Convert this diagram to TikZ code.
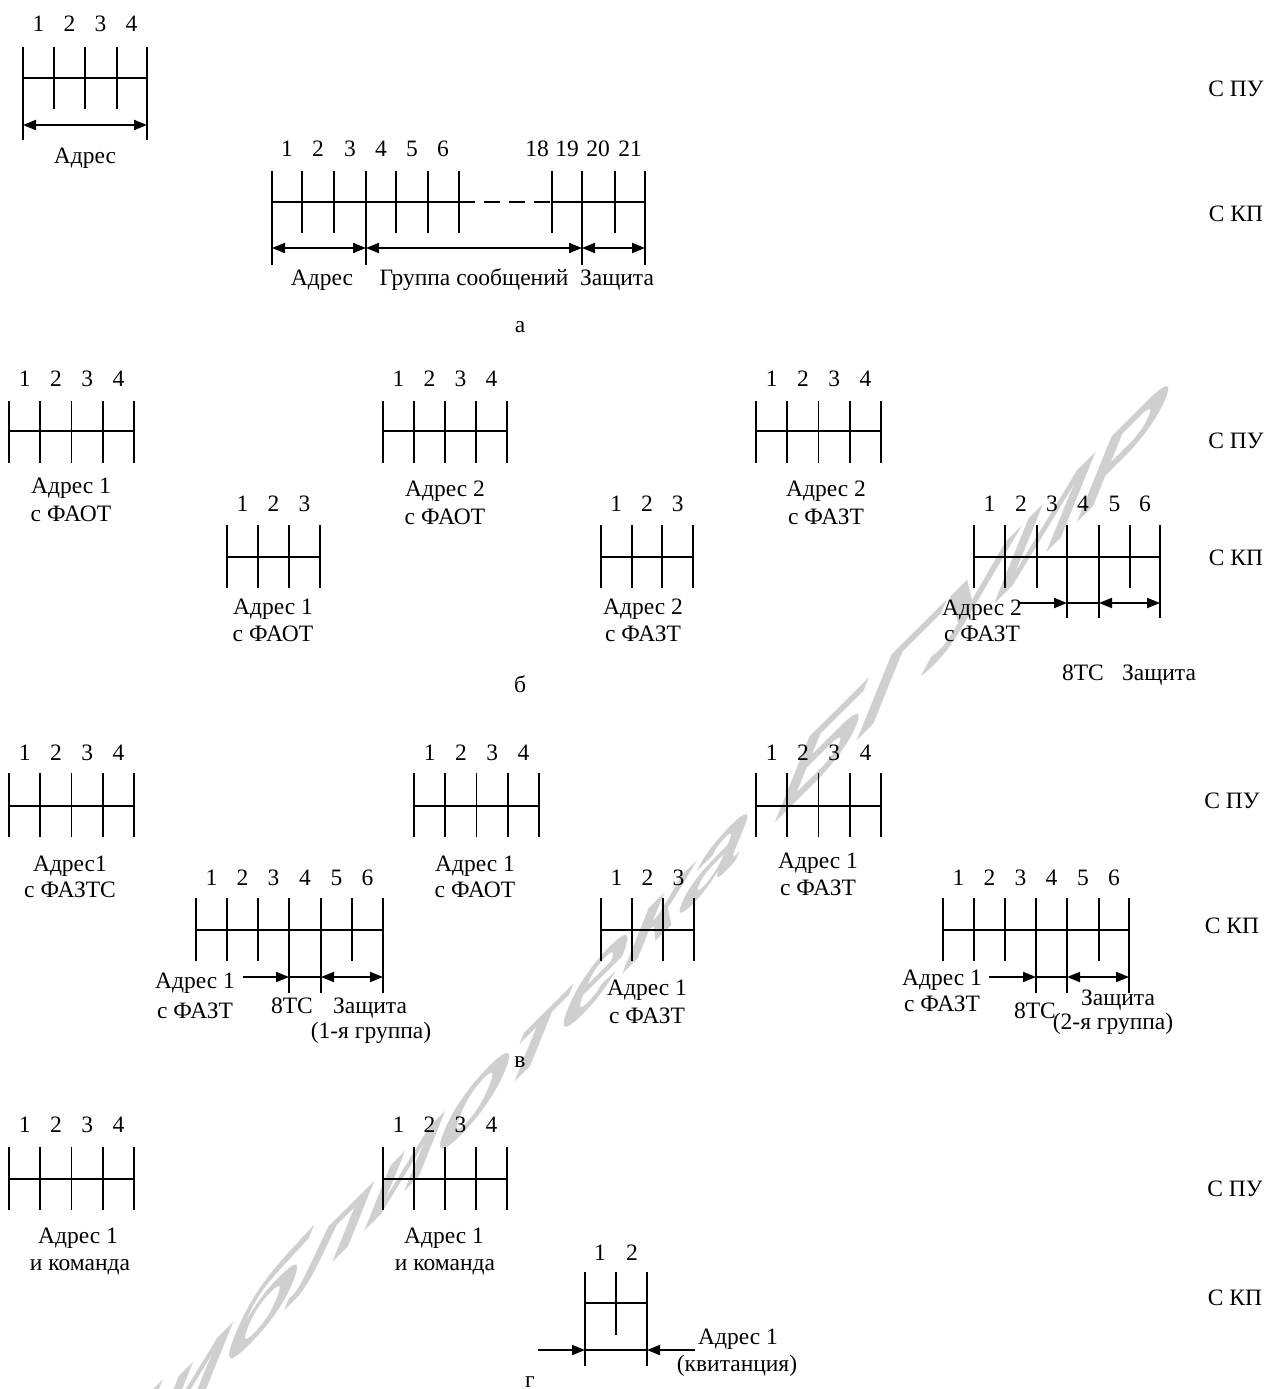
\documentclass[tikz,border=0pt]{standalone}
\usepackage{fontspec}
\setmainfont{Liberation Serif}
\newfontfamily\wmfont{Liberation Sans}
\usetikzlibrary{arrows.meta}
\newcommand\frameblk[6]{%
  \foreach \i in {0,...,#3}{\draw (#1+\i*#2,#4) -- (#1+\i*#2,#6);}
  \draw (#1,#5) -- (#1+#3*#2,#5);}
\newcommand\cellnums[5]{%
  \foreach \i in {1,...,#3}{\node[txt] (#5-\i) at (#1+\i*#2-0.5*#2,#4) {\i};}}
\begin{document}
\begin{tikzpicture}[x=1pt,y=-1pt,line width=1.9pt,
  txt/.style={inner sep=0pt,anchor=base,font=\fontsize{23.5}{28}\selectfont},
  dim/.style={{Triangle[length=13pt,width=10pt]}-{Triangle[length=13pt,width=10pt]}},
  tor/.style={-{Triangle[length=13pt,width=10pt]}},
  wm/.style={inner sep=0pt,text=black!19,font=\wmfont\bfseries\fontsize{135}{140}\selectfont,
    cm={0.851,0.846,0.375,0.927,(0,0)}}]
\useasboundingbox (0,0) rectangle (1267,1389);
% watermark
\begin{scope}
\clip (0,0) rectangle (1267,1389);
\node[wm] (watermark) at (622,948) {Библиотека БГУИР};
\end{scope}

% ================= a =================
\draw (23,47) -- (23,140);
\draw (147,47) -- (147,140);
\foreach \x in {54,85,117}{\draw (\x,47) -- (\x,109);}
\draw (23,78) -- (147,78);
\draw[dim] (23,125) -- (147,125);
\cellnums{23}{31}{4}{32}{aa}
\node[txt] (aaadr) at (85,163) {Адрес};

\foreach \x in {272,366,582,645}{\draw (\x,171) -- (\x,265);}
\foreach \x in {302,334,396,428,459,552,615}{\draw (\x,171) -- (\x,233);}
\draw (272,202) -- (459,202);
\draw[dash pattern=on 16pt off 9pt] (459,202) -- (552,202);
\draw (552,202) -- (645,202);
\draw[dim] (272,248) -- (366,248);
\draw[dim] (366,248) -- (582,248);
\draw[dim] (582,248) -- (645,248);
\foreach \n/\x in {1/287,2/318,3/350,4/381,5/412,6/443,18/537,19/567,20/598,21/630}
  {\node[txt] (ab-\n) at (\x,156) {\n};}
\node[txt] (abadr) at (322,285) {Адрес};
\node[txt] (abgrp) at (474,285) {Группа сообщений};
\node[txt] (abzas) at (617,285) {Защита};
\node[txt] (alab) at (520,332) {а};
\node[txt] (apu) at (1236,96) {С ПУ};
\node[txt] (akp) at (1236,221) {С КП};

% ================= b =================
\frameblk{9}{31.25}{4}{401}{431}{463}
\cellnums{9}{31.25}{4}{386}{ba}
\node[txt] (bal1) at (71,493) {Адрес 1};
\node[txt] (bal2) at (71,521) {с ФАОТ};

\frameblk{227}{31}{3}{525}{557}{588}
\cellnums{227}{31}{3}{511}{bb}
\node[txt] (bbl1) at (273,614) {Адрес 1};
\node[txt] (bbl2) at (273,641) {с ФАОТ};

\frameblk{383}{31}{4}{401}{431}{463}
\cellnums{383}{31}{4}{386}{bc}
\node[txt] (bcl1) at (445,496) {Адрес 2};
\node[txt] (bcl2) at (445,524) {с ФАОТ};

\frameblk{601}{30.67}{3}{525}{557}{588}
\cellnums{601}{30.67}{3}{511}{bd}
\node[txt] (bdl1) at (643,614) {Адрес 2};
\node[txt] (bdl2) at (643,641) {с ФАЗТ};

\frameblk{756}{31.25}{4}{401}{431}{463}
\cellnums{756}{31.25}{4}{386}{be}
\node[txt] (bel1) at (826,496) {Адрес 2};
\node[txt] (bel2) at (826,524) {с ФАЗТ};

\foreach \x in {974,1005,1037,1130}{\draw (\x,525) -- (\x,588);}
\foreach \x in {1067,1099,1160}{\draw (\x,525) -- (\x,618);}
\draw (974,557) -- (1160,557);
\draw[tor] (1020,603) -- (1067,603);
\draw (1067,603) -- (1099,603);
\draw[dim] (1099,603) -- (1160,603);
\foreach \n/\x in {1/989.5,2/1021,3/1052,4/1083,5/1114.5,6/1145}
  {\node[txt] (bf-\n) at (\x,511) {\n};}
\node[txt] (bfl1) at (982,615) {Адрес 2};
\node[txt] (bfl2) at (982,641) {с ФАЗТ};
\node[txt] (bfts) at (1083,680) {8ТС};
\node[txt] (bfzs) at (1159,680) {Защита};
\node[txt] (blab) at (520,692) {б};
\node[txt] (bpu) at (1236,448) {С ПУ};
\node[txt] (bkp) at (1236,565) {С КП};

% ================= v =================
\frameblk{9}{31.25}{4}{773}{806}{837}
\cellnums{9}{31.25}{4}{760}{va}
\node[txt] (val1) at (70,871) {Адрес1};
\node[txt] (val2) at (70,897) {с ФАЗТС};

\foreach \x in {196,227,258,352}{\draw (\x,898) -- (\x,961);}
\foreach \x in {289,321,383}{\draw (\x,898) -- (\x,993);}
\draw (196,930) -- (383,930);
\draw[tor] (243,977) -- (289,977);
\draw (289,977) -- (321,977);
\draw[dim] (321,977) -- (383,977);
\foreach \n/\x in {1/211.5,2/242.5,3/273.5,4/305,5/336.5,6/367.5}
  {\node[txt] (vb-\n) at (\x,885) {\n};}
\node[txt] (vbl1) at (195,988) {Адрес 1};
\node[txt] (vbl2) at (195,1018) {с ФАЗТ};
\node[txt] (vbts) at (292,1013) {8ТС};
\node[txt] (vbzs) at (370,1013) {Защита};
\node[txt] (vbgr) at (371,1038) {(1-я группа)};

\frameblk{414}{31.25}{4}{773}{806}{837}
\cellnums{414}{31.25}{4}{760}{vc}
\node[txt] (vcl1) at (475,871) {Адрес 1};
\node[txt] (vcl2) at (475,897) {с ФАОТ};

\frameblk{601}{31}{3}{898}{930}{961}
\cellnums{601}{31}{3}{885}{vd}
\node[txt] (vdl1) at (647,995) {Адрес 1};
\node[txt] (vdl2) at (647,1023) {с ФАЗТ};

\frameblk{756}{31.25}{4}{773}{806}{837}
\cellnums{756}{31.25}{4}{760}{ve}
\node[txt] (vel1) at (818,868) {Адрес 1};
\node[txt] (vel2) at (818,895) {с ФАЗТ};

\foreach \x in {943,974,1005,1099}{\draw (\x,898) -- (\x,961);}
\foreach \x in {1036,1067,1129}{\draw (\x,898) -- (\x,993);}
\draw (943,930) -- (1129,930);
\draw[tor] (989,977) -- (1036,977);
\draw (1036,977) -- (1067,977);
\draw[dim] (1067,977) -- (1129,977);
\foreach \n/\x in {1/958.5,2/989.5,3/1020.5,4/1051.5,5/1083,6/1114}
  {\node[txt] (vf-\n) at (\x,885) {\n};}
\node[txt] (vfl1) at (942,985) {Адрес 1};
\node[txt] (vfl2) at (942,1011) {с ФАЗТ};
\node[txt] (vfts) at (1035,1018) {8ТС};
\node[txt] (vfzs) at (1118,1005) {Защита};
\node[txt] (vfgr) at (1113,1029) {(2-я группа)};
\node[txt] (vlab) at (520,1067) {в};
\node[txt] (vpu) at (1232,808) {С ПУ};
\node[txt] (vkp) at (1232,933) {С КП};

% ================= g =================
\frameblk{9}{31.25}{4}{1147}{1179}{1210}
\cellnums{9}{31.25}{4}{1132}{ga}
\node[txt] (gal1) at (78,1243) {Адрес 1};
\node[txt] (gal2) at (80,1270) {и команда};

\frameblk{383}{31}{4}{1147}{1179}{1210}
\cellnums{383}{31}{4}{1132}{gb}
\node[txt] (gbl1) at (444,1243) {Адрес 1};
\node[txt] (gbl2) at (445,1270) {и команда};

\draw (585,1272) -- (585,1366);
\draw (616,1272) -- (616,1335);
\draw (647,1272) -- (647,1366);
\draw (585,1303) -- (647,1303);
\draw (585,1350) -- (647,1350);
\draw[tor] (538,1350) -- (585,1350);
\draw[tor] (695,1350) -- (647,1350);
\node[txt] (gc-1) at (600,1260) {1};
\node[txt] (gc-2) at (632,1260) {2};
\node[txt] (gcl1) at (738,1344) {Адрес 1};
\node[txt] (gcl2) at (737,1371) {(квитанция)};
\node[txt] (glab) at (530,1387) {г};
\node[txt] (gpu) at (1235,1196) {С ПУ};
\node[txt] (gkp) at (1235,1305) {С КП};
\end{tikzpicture}
\end{document}
